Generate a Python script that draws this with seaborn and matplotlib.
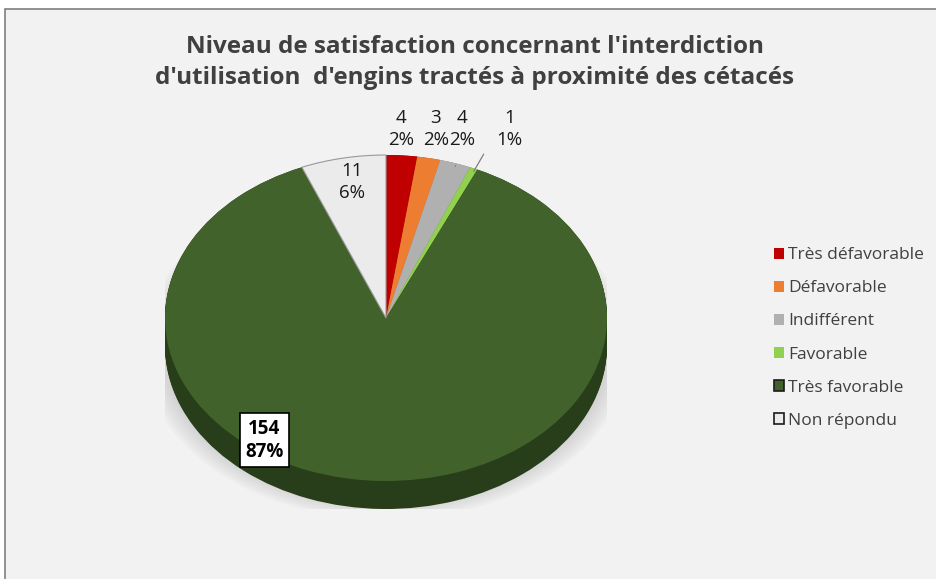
import numpy as np
import matplotlib
matplotlib.use("Agg")
import matplotlib.pyplot as plt
from matplotlib.patches import Rectangle, Ellipse
import seaborn as sns

# data
categories = ["Très défavorable", "Défavorable", "Indifférent",
              "Favorable", "Très favorable", "Non répondu"]
counts = [4, 3, 4, 1, 154, 11]
top_colors = ["#c00000", "#ed7d31", "#b0b0b0", "#92d050", "#42622b", "#ebebeb"]
side_colors = ["#7a0000", "#a8561f", "#7f7f7f", "#5f8a30", "#283d19", "#bdbdbd"]
title = ("Niveau de satisfaction concernant l'interdiction\n"
         "d'utilisation  d'engins tractés à proximité des cétacés")

sns.set_theme(style="white")
plt.rcParams["font.family"] = ["Open Sans", "DejaVu Sans"]

W, H = 937, 579
fig = plt.figure(figsize=(W / 100, H / 100), dpi=100)
fig.patch.set_facecolor("white")

# chart area frame
fig.patches.append(Rectangle((5 / W, -0.02), 1.0, 1 - 9 / H + 0.02,
                             transform=fig.transFigure, facecolor="#f2f2f2",
                             edgecolor="#7f7f7f", linewidth=1.2, zorder=-5))

# pie geometry (pixels)
cx, cy, rx, ry, depth = 386, 318, 221, 163, 28
ax = fig.add_axes([(cx - rx) / W, (H - (cy + ry + depth)) / H,
                   2 * rx / W, (2 * ry + depth) / H])
ax.patch.set_alpha(0)
d = depth / ry

# soft shadow
for s in np.linspace(1.1, 1.0, 8):
    ax.add_patch(Ellipse((0, -d - 0.02), 2 * s, 2 * s * 0.95, facecolor="#9a9a9a",
                         alpha=0.05, linewidth=0, zorder=0))

# side of the 3D pie
for off in np.linspace(d, 0, 30):
    ax.pie(counts, colors=side_colors, startangle=90, counterclock=False,
           center=(0, -off), wedgeprops=dict(linewidth=0))

# top face
wedges, _ = ax.pie(counts, colors=top_colors, startangle=90, counterclock=False,
                   wedgeprops=dict(linewidth=0))
wedges[-1].set_edgecolor("#9a9a9a")
wedges[-1].set_linewidth(0.8)

ax.set_aspect("auto")
ax.set_xlim(-1, 1)
ax.set_ylim(-1 - d, 1)
ax.axis("off")

total = sum(counts)
labels = [f"{c}\n{round(100 * c / total)}%" for c in counts]
mids = [np.deg2rad((w.theta1 + w.theta2) / 2) for w in wedges]

lab_kw = dict(ha="center", va="center", fontsize=13.5, color="#1a1a1a",
              linespacing=1.25)
# small slices at the top
label_x = [np.cos(mids[0]) * 0.95, np.cos(mids[1]) * 1.16,
           np.cos(mids[2]) * 1.1, 0.56]
for i in range(4):
    if i == 2:
        ax.annotate(labels[i], xy=(np.cos(mids[i]), np.sin(mids[i]) * 0.98),
                    xytext=(label_x[i], 1.16), **lab_kw,
                    arrowprops=dict(arrowstyle="-", color="#7f7f7f", lw=0.9,
                                    shrinkA=10, shrinkB=0))
    elif i == 3:
        ax.annotate(labels[i], xy=(np.cos(mids[i]), np.sin(mids[i]) * 0.98),
                    xytext=(label_x[i], 1.16), **lab_kw,
                    arrowprops=dict(arrowstyle="-", color="#7f7f7f", lw=0.9,
                                    connectionstyle="angle,angleA=180,angleB=-120,rad=0",
                                    shrinkA=14, shrinkB=0, relpos=(0, 0.5)))
    else:
        ax.text(label_x[i], 1.16, labels[i], **lab_kw)

# non répondu inside
ax.text(np.cos(mids[5]) * 0.8, np.sin(mids[5]) * 0.85, labels[5], **lab_kw)
# très favorable, boxed
ax.text(-0.55, -0.75, labels[4], ha="center", va="center", fontsize=13.5,
        fontweight="bold", color="black", linespacing=1.2,
        bbox=dict(boxstyle="square,pad=0.3", facecolor="white",
                  edgecolor="black", linewidth=1.2))

fig.suptitle(title, x=475 / W, y=1 - 35 / H, va="top", fontsize=17.5,
             fontweight="bold", color="#404040", linespacing=1.38)

leg = fig.legend(wedges, categories, loc="center left",
                 bbox_to_anchor=(758 / W, 1 - 338 / H), frameon=False,
                 fontsize=12.5, labelcolor="#404040", handlelength=0.6,
                 handleheight=0.6, handletextpad=0.25, labelspacing=0.98)
for h, c in zip(leg.legend_handles, top_colors):
    h.set_facecolor(c)
    h.set_edgecolor("none")
for k in (4, 5):
    leg.legend_handles[k].set_edgecolor("#1a1a1a")
    leg.legend_handles[k].set_linewidth(1.2)

fig.savefig("out.png", dpi=100)
